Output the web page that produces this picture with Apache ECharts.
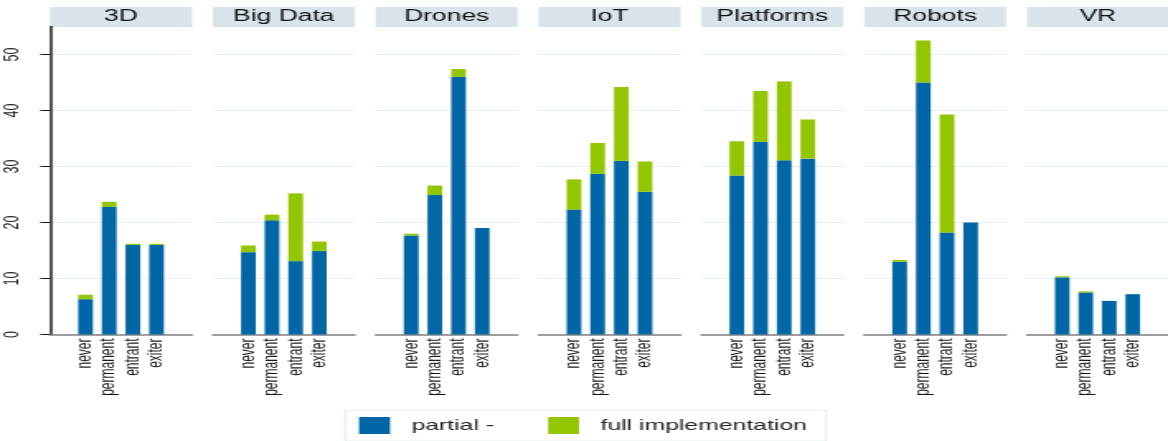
<!DOCTYPE html>
<html>
<head>
<meta charset="utf-8">
<title>Technology adoption by firm type</title>
<script src="https://cdn.jsdelivr.net/npm/echarts@6/dist/echarts.min.js"></script>
<style>
  html, body { margin: 0; padding: 0; background: #fff; overflow: hidden; }
  /* the original graph is stretched sideways, so we draw narrow and widen it */
  #chart { width: 708px; height: 441px; transform: scaleX(1.649718); transform-origin: 0 0; }
</style>
</head>
<body>
<div id="chart"></div>
<script>
const panels = ['3D', 'Big Data', 'Drones', 'IoT', 'Platforms', 'Robots', 'VR'];
const groups = ['never', 'permanent', 'entrant', 'exiter'];
const yTicks = [0, 10, 20, 30, 40, 50];

// share of firms, one row per technology (never, permanent, entrant, exiter)
const partial = [
  [6.3, 22.8, 16.0, 16.0],
  [14.7, 20.4, 13.1, 14.9],
  [17.7, 24.9, 46.0, 19.0],
  [22.3, 28.7, 31.0, 25.5],
  [28.4, 34.4, 31.1, 31.4],
  [13.0, 45.0, 18.2, 20.0],
  [10.2, 7.5, 6.0, 7.2]
];
const full = [
  [0.8, 0.9, 0.2, 0.2],
  [1.2, 1.0, 12.1, 1.7],
  [0.3, 1.7, 1.4, 0],
  [5.4, 5.5, 13.2, 5.4],
  [6.1, 9.1, 14.1, 7.0],
  [0.3, 7.5, 21.1, 0],
  [0.2, 0.2, 0, 0]
];

const S = 1168 / 708;
const px = (x) => x / S;   // screen x -> drawing x

const BLUE = '#0066a6';
const GREEN = '#93c500';
const FONT = 'Liberation Sans, Arial, sans-serif';

const chart = echarts.init(document.getElementById('chart'));

const grids = [], xAxes = [], yAxes = [], series = [], titles = [], headers = [];
panels.forEach((name, i) => {
  const left = 50 + i * 162.83;
  const width = 142;
  grids.push({ left: px(left), top: 26.5, width: px(width), height: 308 });

  // one blank slot either side, as in the original
  xAxes.push({
    type: 'category',
    gridIndex: i,
    data: [''].concat(groups, ['']),
    axisLine: { lineStyle: { color: '#808080', width: 1.5 } },
    axisTick: { show: false },
    axisLabel: { interval: 0, rotate: 90, fontSize: 12, color: '#1a1a1a', margin: 4, fontFamily: FONT }
  });

  yAxes.push({
    type: 'value',
    gridIndex: i,
    min: 0,
    max: 55,
    interval: 10,
    axisLine: { show: i === 0, lineStyle: { color: '#1a1a1a', width: 1.5 } },
    axisTick: { show: i === 0, length: 6, customValues: yTicks, lineStyle: { color: '#1a1a1a' } },
    axisLabel: {
      show: i === 0, rotate: 90, fontSize: 12.5, color: '#1a1a1a', margin: 16,
      fontFamily: FONT, customValues: yTicks
    },
    splitLine: { lineStyle: { color: '#e6eff2', width: 1 } }
  });

  series.push({
    name: 'partial -',
    type: 'bar',
    stack: 'p' + i,
    xAxisIndex: i,
    yAxisIndex: i,
    barWidth: '62%',
    itemStyle: { color: BLUE },
    data: ['-'].concat(partial[i], ['-'])
  });
  series.push({
    name: 'full implementation',
    type: 'bar',
    stack: 'p' + i,
    xAxisIndex: i,
    yAxisIndex: i,
    barWidth: '62%',
    itemStyle: { color: GREEN },
    data: ['-'].concat(full[i], ['-'])
  });

  headers.push({
    type: 'rect',
    shape: { x: px(left), y: 7, width: px(width), height: 20 },
    style: { fill: '#d9e4ea' },
    z: 0
  });
  titles.push({
    text: name,
    left: px(left + width / 2),
    top: 7,
    textAlign: 'center',
    padding: 0,
    textStyle: { fontSize: 16, fontWeight: 'normal', color: '#111', lineHeight: 20, fontFamily: FONT }
  });
});

const option = {
  animation: false,
  backgroundColor: '#fff',
  title: titles,
  graphic: headers,
  grid: grids,
  xAxis: xAxes,
  yAxis: yAxes,
  legend: {
    data: ['partial -', 'full implementation'],
    left: px(345),
    top: 410,
    padding: [7, 11.7, 7, 8.5],
    borderColor: '#e3ecef',
    borderWidth: 1,
    itemWidth: px(31),
    itemHeight: 17,
    itemGap: 32.8,
    icon: 'rect',
    textStyle: { fontSize: 15, color: '#222', fontFamily: FONT, padding: [0, 0, 0, 8] }
  },
  series: series
};

chart.setOption(option);
</script>
</body>
</html>
